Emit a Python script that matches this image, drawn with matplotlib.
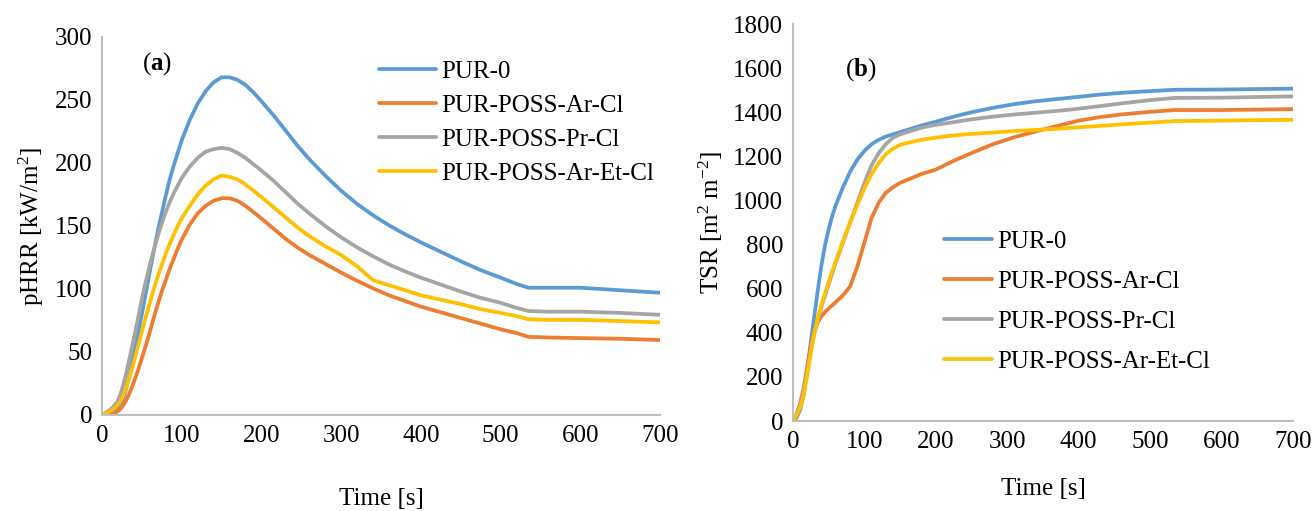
import matplotlib
matplotlib.use("Agg")
import matplotlib.pyplot as plt

plt.rcParams['font.family'] = ['Liberation Serif']
plt.rcParams['mathtext.fontset'] = 'custom'
plt.rcParams['mathtext.rm'] = 'Liberation Serif'
plt.rcParams['mathtext.bf'] = 'Liberation Serif:bold'
plt.rcParams['mathtext.it'] = 'Liberation Serif:italic'

labels = ["PUR-0", "PUR-POSS-Ar-Cl", "PUR-POSS-Pr-Cl", "PUR-POSS-Ar-Et-Cl"]
colors = ["#5B9BD5", "#ED7D31", "#A5A5A5", "#FFC000"]

# (a) pHRR
t_hrr = [0, 5, 10, 15, 20, 25, 30, 35, 40, 45, 50, 55, 60, 65, 70, 75, 80, 85, 90, 95, 100,
         110, 120, 130, 140, 150, 160, 170, 180, 190, 200, 215, 230, 245, 260, 280, 300,
         320, 340, 360, 380, 400, 425, 450, 475, 500, 520, 535, 560, 600, 650, 700]
hrr_pur0 = [0, 1, 2, 3, 5, 10, 20, 33, 48, 64, 80, 97, 114, 130, 146, 160, 174, 187, 198, 208, 218,
            234, 247, 257, 264, 268, 268, 266, 262, 256, 249, 238, 226, 214, 203, 190, 178,
            167.5, 158.5, 150.5, 143.5, 137, 129.5, 122, 115, 109, 104, 101, 101, 101, 99, 97]
hrr_arcl = [0, 0, 0, 1, 3, 6, 11, 18, 26, 35, 45, 55, 66, 77, 88, 98, 107, 116, 124, 132, 139,
            151, 160, 166, 170, 172, 172, 170, 166, 161, 156, 148, 140, 133, 127, 120, 113,
            106.5, 100.5, 95, 90.5, 86, 81.5, 77, 72.5, 68, 65, 62, 61.5, 61, 60.5, 59.5]
hrr_prcl = [0, 2, 4, 7, 11, 20, 32, 46, 61, 76, 92, 106, 119, 131, 142, 152, 161, 169, 176, 182, 188,
            197, 204, 209, 211, 212, 211, 208, 204, 199, 194, 186, 177, 168, 160, 150, 141,
            133, 126, 119.5, 114, 109, 103.5, 98, 93, 89, 85, 82.5, 82, 82, 81, 79.5]
hrr_aretcl = [0, 1, 3, 5, 8, 13, 21, 31, 42, 54, 66, 78, 89, 100, 110, 119, 128, 136, 143, 150, 156,
              166, 175, 182, 187, 190, 189, 187, 183, 178, 173, 165, 157, 149, 142, 134, 127,
              118, 107, 103, 99, 95, 91.5, 88, 84, 81, 78.5, 76, 75.5, 75.5, 74.5, 73.5]

# (b) TSR
t_tsr = [0, 5, 10, 15, 20, 25, 30, 35, 40, 45, 50, 55, 60, 70, 80, 90, 100, 110, 120, 130, 140,
         150, 165, 180, 200, 225, 250, 280, 310, 340, 370, 400, 430, 460, 500, 535, 600, 650, 700]
tsr_pur0 = [0, 15, 50, 120, 230, 360, 480, 600, 710, 800, 870, 930, 980, 1060, 1130, 1185, 1225, 1255, 1275, 1290, 1300,
            1310, 1325, 1340, 1357, 1380, 1400, 1420, 1437, 1450, 1460, 1470, 1480, 1488, 1496, 1502, 1503, 1505, 1507]
tsr_arcl = [0, 30, 80, 150, 250, 340, 410, 450, 475, 495, 510, 525, 540, 570, 610, 700, 810, 920, 990, 1035, 1060,
            1080, 1100, 1120, 1140, 1180, 1215, 1255, 1287, 1313, 1338, 1362, 1378, 1390, 1402, 1410, 1410, 1412, 1414]
tsr_prcl = [0, 30, 70, 140, 230, 320, 400, 460, 520, 570, 620, 670, 720, 810, 900, 990, 1080, 1160, 1215, 1255, 1285,
            1300, 1315, 1330, 1343, 1355, 1368, 1380, 1390, 1398, 1406, 1416, 1428, 1440, 1455, 1465, 1466, 1469, 1472]
tsr_aretcl = [0, 25, 60, 120, 210, 310, 400, 470, 530, 580, 630, 680, 725, 815, 900, 980, 1055, 1120, 1170, 1210, 1235,
              1252, 1265, 1275, 1285, 1295, 1302, 1308, 1315, 1320, 1325, 1332, 1338, 1345, 1353, 1360, 1362, 1364, 1366]

fig = plt.figure(figsize=(13.14, 5.11), dpi=100)
ax1 = fig.add_axes([0.0776, 0.1879, 0.4247, 0.7397])
ax2 = fig.add_axes([0.6035, 0.1761, 0.3805, 0.7769])

fs = 18
for ax in (ax1, ax2):
    for s in ("top", "right"):
        ax.spines[s].set_visible(False)
    for s in ("left", "bottom"):
        ax.spines[s].set_color("#BFBFBF")
        ax.spines[s].set_linewidth(1.5)
    ax.tick_params(length=0, labelsize=fs, pad=7)
    ax.set_xlim(0, 700)
    ax.set_xticks(range(0, 701, 100))

for y, lab, c in zip([hrr_pur0, hrr_arcl, hrr_prcl, hrr_aretcl], labels, colors):
    ax1.plot(t_hrr, y, color=c, lw=2.7, label=lab, solid_joinstyle="round", solid_capstyle="round")
ax1.set_ylim(0, 300)
ax1.set_yticks(range(0, 301, 50))
ax1.set_xlabel("Time [s]", fontsize=fs, labelpad=30)
ax1.set_ylabel("pHRR [kW/m$^2$]", fontsize=fs, labelpad=6)
ax1.text(0.072, 0.965, r"($\mathbf{a}$)", transform=ax1.transAxes, fontsize=fs, ha="left", va="top")
ax1.legend(loc="upper left", bbox_to_anchor=(0.478, 0.965), frameon=False, fontsize=fs,
           handlelength=2.3, handletextpad=0.2, labelspacing=0.46, borderaxespad=0)

for y, lab, c in zip([tsr_pur0, tsr_arcl, tsr_prcl, tsr_aretcl], labels, colors):
    ax2.plot(t_tsr, y, color=c, lw=2.7, label=lab, solid_joinstyle="round", solid_capstyle="round")
ax2.set_ylim(0, 1800)
ax2.set_yticks(range(0, 1801, 200))
ax2.set_xlabel("Time [s]", fontsize=fs, labelpad=18)
ax2.set_ylabel("TSR [m$^2$ m$^{-2}$]", fontsize=fs, labelpad=6)
ax2.text(0.105, 0.92, r"($\mathbf{b}$)", transform=ax2.transAxes, fontsize=fs, ha="left", va="top")
ax2.legend(loc="upper left", bbox_to_anchor=(0.283, 0.505), frameon=False, fontsize=fs,
           handlelength=1.9, handletextpad=0.2, labelspacing=0.70, borderaxespad=0)

fig.savefig("out.png", dpi=100)
